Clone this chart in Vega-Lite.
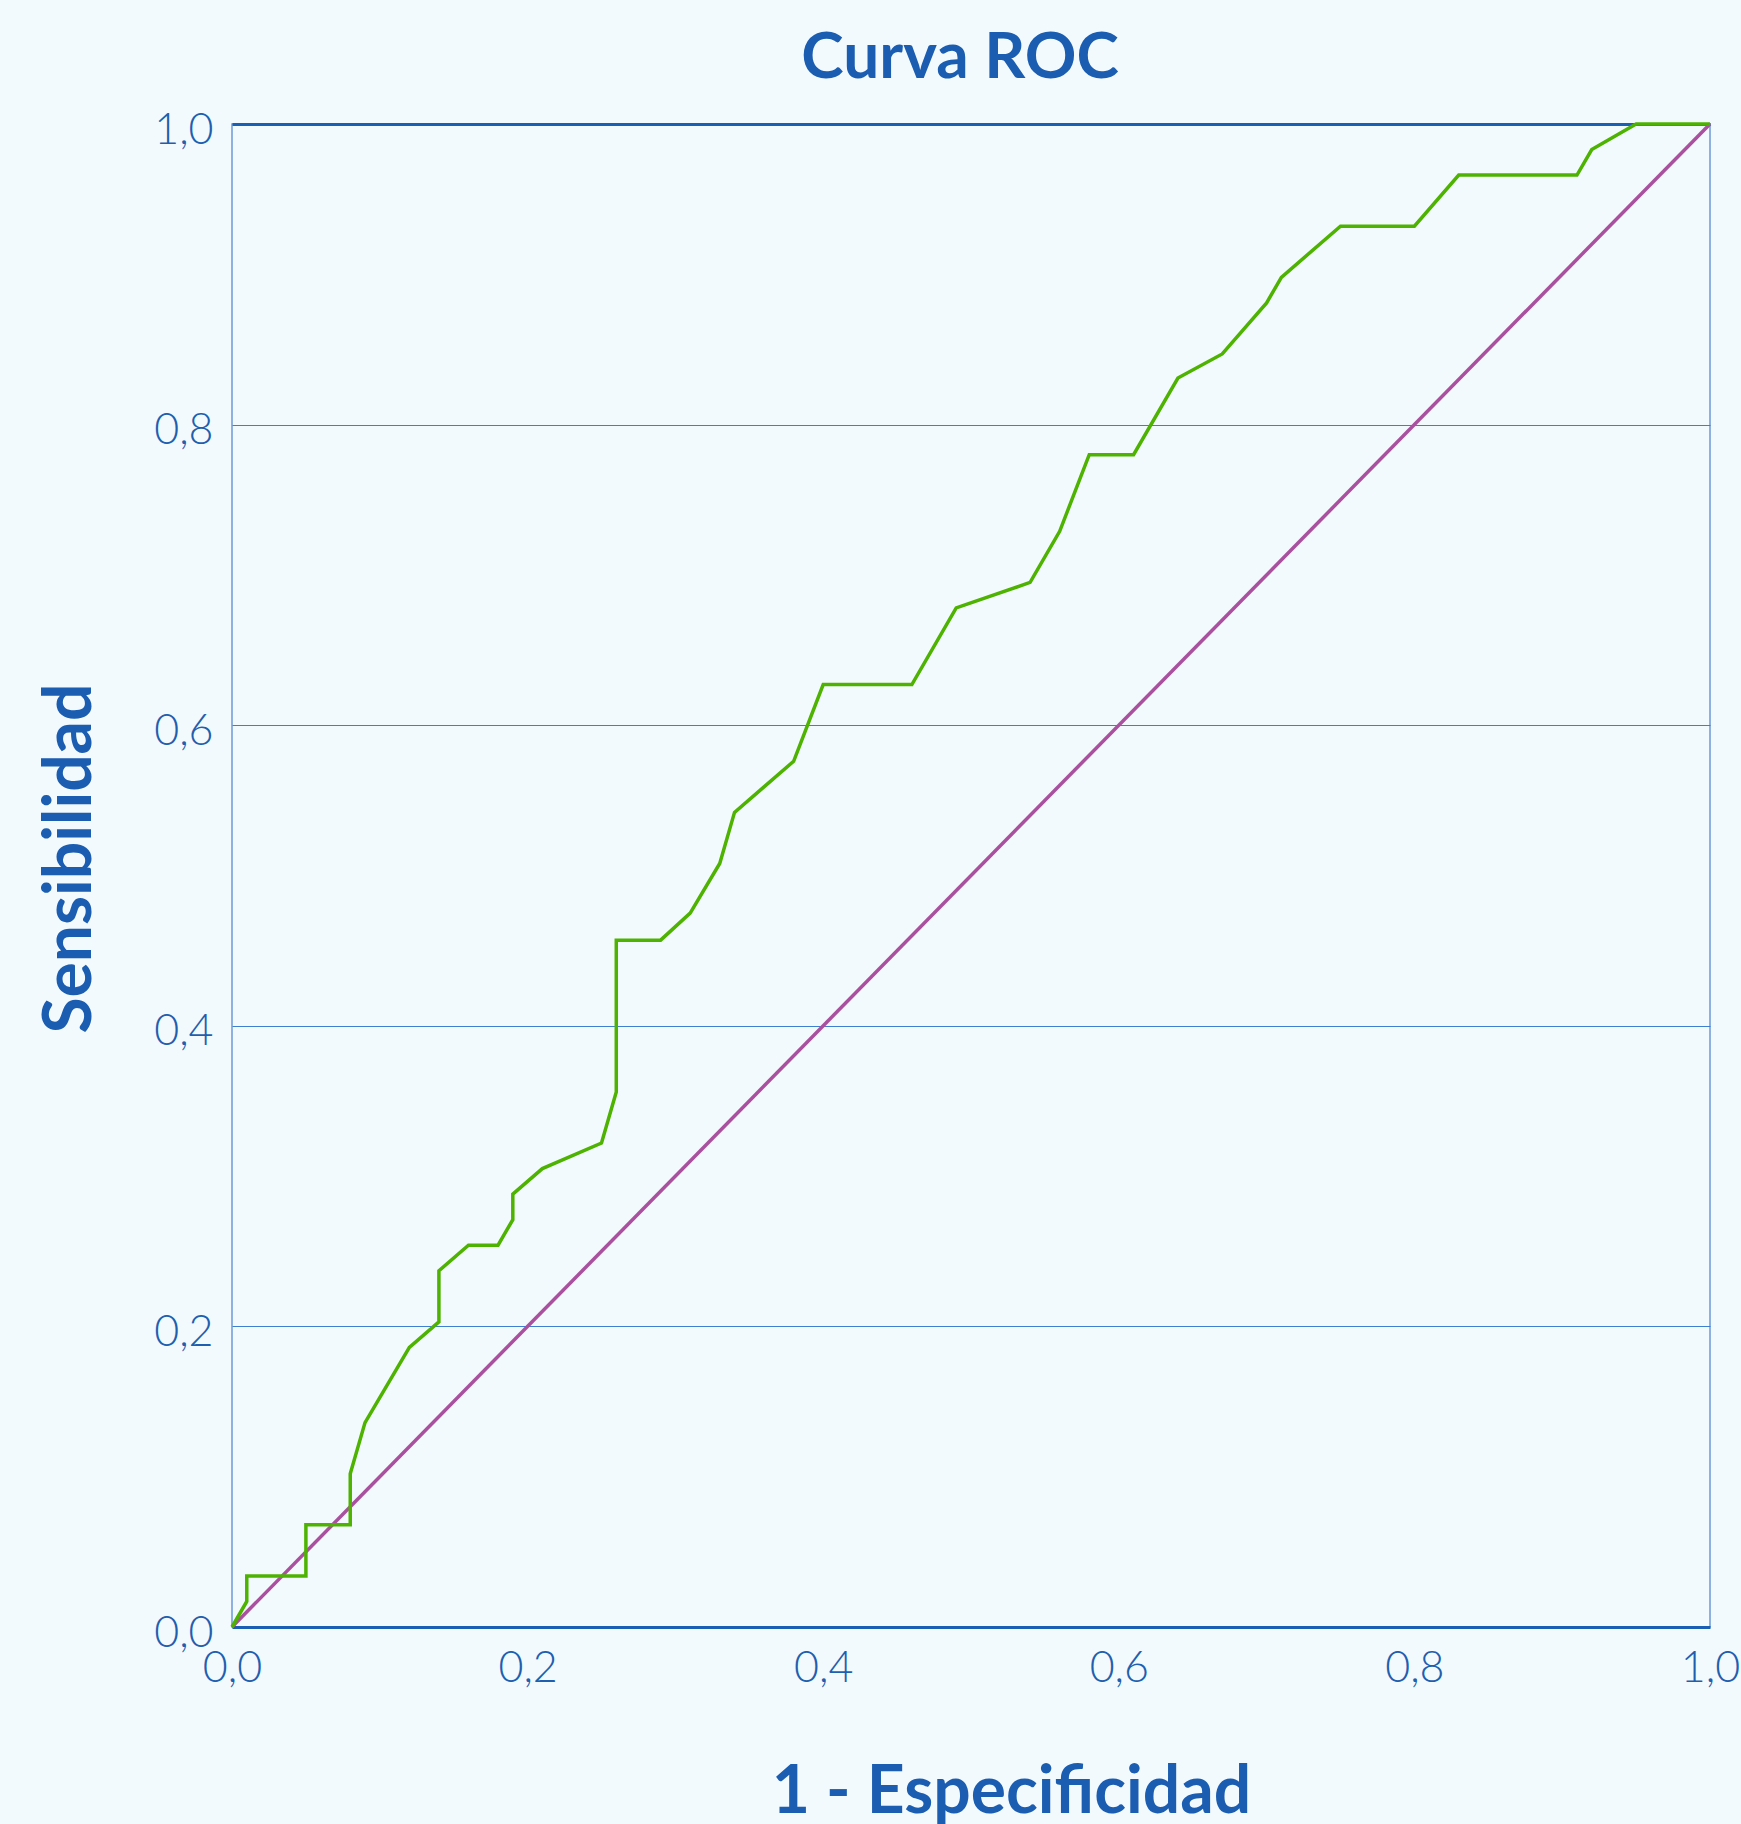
{
  "$schema": "https://vega.github.io/schema/vega-lite/v6.json",
  "autosize": {"type": "none"},
  "width": 1478,
  "height": 1503,
  "padding": {"left": 232, "top": 124, "right": 31, "bottom": 197},
  "background": "#F3FAFD",
  "config": {
    "view": {"stroke": "#6C9BD8", "strokeWidth": 1.5},
    "font": "Lato"
  },
  "title": {
    "text": "Curva ROC",
    "font": "Lato",
    "fontSize": 64,
    "fontWeight": "bold",
    "color": "#1B5DB0",
    "anchor": "middle",
    "offset": 18,
    "dx": -11
  },
  "datasets": {
    "roc": [
      {"orden": 1, "fpr": 0.0, "tpr": 0.0},
      {"orden": 2, "fpr": 0.01, "tpr": 0.017},
      {"orden": 3, "fpr": 0.01, "tpr": 0.034},
      {"orden": 4, "fpr": 0.05, "tpr": 0.034},
      {"orden": 5, "fpr": 0.05, "tpr": 0.068},
      {"orden": 6, "fpr": 0.08, "tpr": 0.068},
      {"orden": 7, "fpr": 0.08, "tpr": 0.102},
      {"orden": 8, "fpr": 0.09, "tpr": 0.136},
      {"orden": 9, "fpr": 0.12, "tpr": 0.186},
      {"orden": 10, "fpr": 0.14, "tpr": 0.203},
      {"orden": 11, "fpr": 0.14, "tpr": 0.237},
      {"orden": 12, "fpr": 0.16, "tpr": 0.254},
      {"orden": 13, "fpr": 0.18, "tpr": 0.254},
      {"orden": 14, "fpr": 0.19, "tpr": 0.271},
      {"orden": 15, "fpr": 0.19, "tpr": 0.288},
      {"orden": 16, "fpr": 0.21, "tpr": 0.305},
      {"orden": 17, "fpr": 0.25, "tpr": 0.322},
      {"orden": 18, "fpr": 0.26, "tpr": 0.356},
      {"orden": 19, "fpr": 0.26, "tpr": 0.457},
      {"orden": 20, "fpr": 0.29, "tpr": 0.457},
      {"orden": 21, "fpr": 0.31, "tpr": 0.475},
      {"orden": 22, "fpr": 0.33, "tpr": 0.508},
      {"orden": 23, "fpr": 0.34, "tpr": 0.542},
      {"orden": 24, "fpr": 0.38, "tpr": 0.576},
      {"orden": 25, "fpr": 0.40, "tpr": 0.627},
      {"orden": 26, "fpr": 0.46, "tpr": 0.627},
      {"orden": 27, "fpr": 0.49, "tpr": 0.678},
      {"orden": 28, "fpr": 0.54, "tpr": 0.695},
      {"orden": 29, "fpr": 0.56, "tpr": 0.729},
      {"orden": 30, "fpr": 0.58, "tpr": 0.780},
      {"orden": 31, "fpr": 0.61, "tpr": 0.780},
      {"orden": 32, "fpr": 0.64, "tpr": 0.831},
      {"orden": 33, "fpr": 0.67, "tpr": 0.847},
      {"orden": 34, "fpr": 0.70, "tpr": 0.881},
      {"orden": 35, "fpr": 0.71, "tpr": 0.898},
      {"orden": 36, "fpr": 0.75, "tpr": 0.932},
      {"orden": 37, "fpr": 0.80, "tpr": 0.932},
      {"orden": 38, "fpr": 0.83, "tpr": 0.966},
      {"orden": 39, "fpr": 0.91, "tpr": 0.966},
      {"orden": 40, "fpr": 0.92, "tpr": 0.983},
      {"orden": 41, "fpr": 0.95, "tpr": 1.0},
      {"orden": 42, "fpr": 1.0, "tpr": 1.0}
    ],
    "diagonal": [
      {"orden": 1, "fpr": 0.0, "tpr": 0.0},
      {"orden": 2, "fpr": 1.0, "tpr": 1.0}
    ]
  },
  "encoding": {
    "x": {
      "field": "fpr",
      "type": "quantitative",
      "scale": {"domain": [0, 1], "nice": false, "zero": false},
      "axis": {
        "title": "1 - Especificidad",
        "values": [0, 0.2, 0.4, 0.6, 0.8, 1.0],
        "labelExpr": "replace(format(datum.value, '.1f'), '.', ',')",
        "grid": false,
        "domain": false,
        "ticks": false,
        "labelFont": "Lato",
        "labelFontWeight": 300,
        "labelFontSize": 43,
        "labelColor": "#1F5FAF",
        "labelPadding": 20,
        "labelFlush": false,
        "titleFont": "Lato",
        "titleFontSize": 66,
        "titleFontWeight": "bold",
        "titleColor": "#1B5DB0",
        "titleX": 779,
        "titleY": 185,
        "titleAlign": "center",
        "titleBaseline": "alphabetic"
      }
    },
    "y": {
      "field": "tpr",
      "type": "quantitative",
      "scale": {"domain": [0, 1], "nice": false, "zero": false},
      "axis": {
        "title": "Sensibilidad",
        "values": [0, 0.2, 0.4, 0.6, 0.8, 1.0],
        "labelExpr": "replace(format(datum.value, '.1f'), '.', ',')",
        "grid": true,
        "gridColor": {"condition": {"test": "datum.value === 0 || datum.value === 1", "value": "#1A5FB4"}, "value": "#3F7FD2"},
        "gridWidth": {"condition": {"test": "datum.value === 0 || datum.value === 1", "value": 3}, "value": 1},
        "domain": false,
        "ticks": false,
        "labelFont": "Lato",
        "labelFontWeight": 300,
        "labelFontSize": 43,
        "labelColor": "#1F5FAF",
        "labelPadding": 19,
        "labelOffset": 6,
        "labelFlush": false,
        "titleFont": "Lato",
        "titleFontSize": 66,
        "titleFontWeight": "bold",
        "titleColor": "#1B5DB0",
        "titleX": -142,
        "titleY": 734,
        "titleAngle": -90,
        "titleAlign": "center",
        "titleBaseline": "alphabetic"
      }
    },
    "order": {"field": "orden", "type": "quantitative"}
  },
  "layer": [
    {
      "data": {"name": "diagonal"},
      "mark": {"type": "line", "color": "#A9509F", "strokeWidth": 3.5, "clip": false}
    },
    {
      "data": {"name": "roc"},
      "mark": {"type": "line", "color": "#4DB300", "strokeWidth": 3.5, "clip": false}
    }
  ]
}
